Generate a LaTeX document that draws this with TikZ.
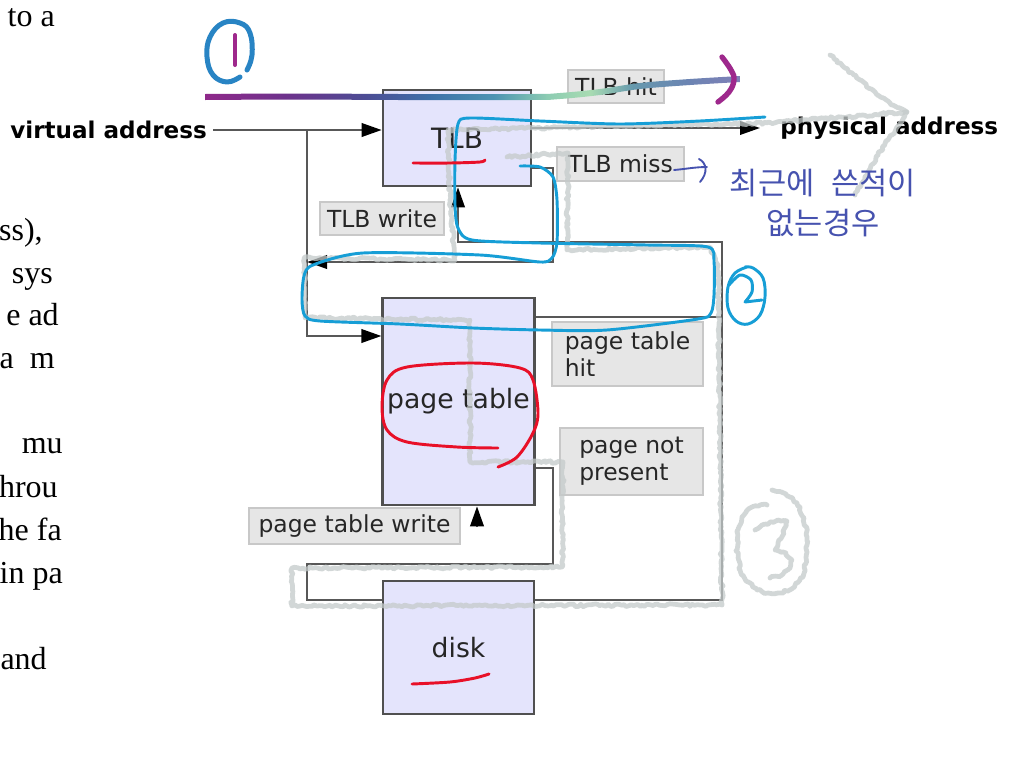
\documentclass[tikz,border=0pt]{standalone}
\usepackage{fontspec}
\setmainfont{Liberation Serif}
\newfontfamily\dvs{DejaVu Sans}
\newfontfamily\kor{Noto Sans CJK KR}
\usetikzlibrary{arrows.meta,decorations.pathmorphing,calc}

\definecolor{boxfill}{RGB}{228,228,252}
\definecolor{boxline}{RGB}{80,80,80}
\definecolor{lblfill}{RGB}{230,230,230}
\definecolor{lblline}{RGB}{200,200,200}
\definecolor{connc}{RGB}{88,88,88}
\definecolor{cyanpen}{RGB}{22,158,214}
\definecolor{redpen}{RGB}{232,16,40}
\definecolor{indigopen}{RGB}{70,82,175}
\definecolor{pencilc}{RGB}{196,202,202}
\definecolor{purplepen}{RGB}{158,40,140}
\definecolor{tealpen}{RGB}{40,132,196}

\pgfdeclarehorizontalshading{glitter}{100bp}{%
 rgb(0bp)=(0.56,0.16,0.54);
 rgb(25bp)=(0.56,0.16,0.54);
 rgb(33bp)=(0.42,0.20,0.55);
 rgb(40bp)=(0.30,0.30,0.58);
 rgb(46bp)=(0.24,0.44,0.66);
 rgb(52bp)=(0.30,0.58,0.70);
 rgb(57bp)=(0.55,0.80,0.70);
 rgb(61bp)=(0.66,0.86,0.70);
 rgb(65bp)=(0.40,0.60,0.68);
 rgb(70bp)=(0.42,0.52,0.70);
 rgb(75bp)=(0.50,0.50,0.72);
 rgb(100bp)=(0.50,0.50,0.72)}

\tikzset{
  bigtri/.tip={Triangle[length=15pt,width=10pt,color=black]},
  wire/.style={draw=connc, line width=1.9pt},
  boxnode/.style={draw=boxline, fill=boxfill, line width=1.9pt, text=black!85,
    font=\dvs\fontsize{20}{24}\selectfont},
  lbl/.style={draw=lblline, fill=lblfill, line width=1.5pt, text=black!85, inner sep=0pt,
    align=left, font=\dvs\fontsize{17.6}{20.25}\selectfont},
  bigtxt/.style={inner sep=0pt, text=black, font=\dvs\bfseries\fontsize{17.3}{20}\selectfont},
  lefttxt/.style={anchor=base east, inner sep=0pt, text=black, font=\fontsize{24}{28}\selectfont},
  pencil/.style={draw=pencilc, line width=3.6pt, line cap=round, line join=round, opacity=0.75,
    dash pattern=on 1.3pt off 0.5pt,
    decorate, decoration={random steps, segment length=2pt, amplitude=1pt}},
  cyanstroke/.style={draw=cyanpen, line width=2.2pt, line cap=round, line join=round},
  redstroke/.style={draw=redpen, line width=2.2pt, line cap=round, line join=round},
  handpen/.style={draw=indigopen, line width=1.4pt, line cap=round},
}

\begin{document}
\begin{tikzpicture}[x=0.75pt,y=-0.75pt]
\useasboundingbox (0,0) rectangle (1023,768);
\fill[white] (0,0) rectangle (1023,768);

% ---- background text fragments
\node[lefttxt] (t1) at (55,26) {to a};
\node[lefttxt] (t2) at (43,240) {ss),};
\node[lefttxt] (t3) at (53,283) {sys};
\node[lefttxt] (t4) at (59,325) {e ad};
\node[lefttxt] (t5) at (55,368) {a~~m};
\node[lefttxt] (t6) at (63,453) {mu};
\node[lefttxt] (t7) at (58,497) {hrou};
\node[lefttxt] (t8) at (62,540) {he fa};
\node[lefttxt] (t9) at (63,583) {in pa};
\node[lefttxt] (t10) at (47,669) {and};

% ---- boxes
\node[boxnode, minimum width=111pt, minimum height=72pt, font=\dvs\fontsize{21}{24}\selectfont] (TLB) at (457,138) {TLB};
\node[boxnode, minimum width=113.25pt, minimum height=155.25pt] (PT) at (458.5,401.5) {page table};
\node[boxnode, minimum width=113.25pt, minimum height=99.75pt] (disk) at (458.5,647.5) {disk};

% ---- labels
\node[lbl, minimum width=72pt, minimum height=24.75pt] (hit) at (616,86.5) {TLB hit};
\node[lbl, minimum width=95.25pt, minimum height=25.5pt] (miss) at (620.5,164) {TLB miss};
\node[lbl, minimum width=93pt, minimum height=24.75pt] (tw) at (382,218.5) {TLB write};
\node[lbl, minimum width=113.25pt, minimum height=48pt] (pth) at (627.5,354) {page table\\hit};
\node[lbl, minimum width=107.25pt, minimum height=50.25pt] (pnp) at (631.5,461.5) {page not\\present};
\node[lbl, minimum width=158.25pt, minimum height=27pt] (ptw) at (354.5,526) {page table write};

\node[bigtxt, anchor=east] (va) at (207,130) {virtual address};
\node[bigtxt, anchor=west] (pa) at (780,128) {physical address};

% ---- connectors
\coordinate (split) at (307,130);
\coordinate (missR) at (553,262);
\coordinate (wrR) at (722,242);
\coordinate (wrL) at (458,242);
\coordinate (npR) at (553,564);
\coordinate (npL) at (307,564);
\coordinate (ptwBase) at (477,527);

\draw[wire,-{bigtri}] (va.east) ++(6,0) -- (TLB.west |- split);
\draw[wire,-{bigtri}] (split) |- (PT.west |- 0,336);
\draw[wire,-{bigtri},shorten >=15pt] (TLB.east |- pa.west) -- (pa.west);
\draw[wire,-{bigtri}] (TLB.east |- 0,168) -| (missR) -- (split |- missR);
\draw[wire,-{bigtri}] (disk.east |- 0,600) -| (wrR) -- (wrL) -- (wrL |- TLB.south);
\draw[wire] (PT.east |- 0,317) -- (wrR |- 0,317);
\draw[wire] (PT.east |- 0,468) -| (npR) -- (npL) |- (disk.west |- 0,600);
\draw[wire,-{bigtri}] (ptwBase) -- (ptwBase |- PT.south);

% ---- pencil (grey) annotation path
\draw[pencil] (507,157) -- (568,153) -- (567,250) -- (710,247) -- (718,265) -- (722,605)
  -- (292,606) -- (292,568) -- (562,567) -- (563,462) -- (470,462) -- (470,320)
  -- (305,318) -- (304,258) -- (455,260) -- (450,200) -- (448,130) -- (767,123) -- (907,112);
\draw[pencil] (830,55) -- (845,68) -- (860,80) -- (875,92) -- (890,103) -- (907,112)
  -- (898,126) -- (888,140) -- (878,155) -- (868,172) -- (855,195);
\draw[pencil] (772,490) -- (786,494) -- (797,503) -- (804,518) -- (807,537) -- (806,558)
  -- (803,577) -- (793,588) -- (780,593) -- (768,593) -- (757,590) -- (746,581) -- (740,570)
  -- (737,550) -- (738,530) -- (742,517) -- (750,508) -- (760,505) -- (767,505);
\draw[pencil] (755,530) -- (765,524) -- (778,520) -- (787,521) -- (784,533) -- (775,550)
  -- (786,553) -- (792,560) -- (790,568) -- (782,575) -- (770,578);

% ---- glitter stroke
\draw[draw=tealpen, line width=3.75pt, line cap=round, line join=round]
  plot[smooth, tension=0.7] coordinates {(247,70) (252,55) (250,33) (240,23) (223,23) (210,37) (207,57) (213,75) (227,82) (240,77)};
\draw[draw=purplepen, line width=3pt, line cap=round] (235,35) -- (235,65);
\shade[shading=glitter] plot[smooth, tension=0.6] coordinates {(205,94) (300,93.5) (400,94) (530,94) (560,93) (600,89) (640,83) (690,79) (740,76)}
  -- plot[smooth, tension=0.6] coordinates {(740,82) (690,85) (640,89) (600,95) (560,99) (530,100) (400,100) (300,99.5) (205,100)} -- cycle;
\draw[draw=purplepen, line width=4pt, line cap=round, line join=round]
  plot[smooth, tension=0.7] coordinates {(722,57) (731,70) (734,80) (729,92) (718,102)};

% ---- cyan loop and numeral
\draw[cyanstroke] plot[smooth, tension=0.45] coordinates {(765,117) (700,121) (620,124) (540,121) (470,118) (458,124) (455,160) (455,205) (458,228) (472,240) (540,243) (647,245) (708,247) (714,262) (714,295) (711,313) (698,319) (607,330) (540,330) (473,328) (400,324) (320,321) (305,316) (302,300) (304,276) (313,265) (363,253) (480,255) (540,262) (552,258) (557,242) (557,200) (553,177) (540,167) (520,166)};
\draw[cyanstroke] plot[smooth, tension=0.6] coordinates {(747,267) (735,273) (728,287) (728,308) (736,321) (748,324) (760,315) (765,297) (763,278) (753,268) (745,267)};
\draw[cyanstroke] plot[smooth, tension=0.5] coordinates {(729,285) (740,275) (751,280) (752,292) (745,302)} -- (762,300);

% ---- red marks
\draw[redstroke] plot[smooth, tension=0.5] coordinates {(413,163) (450,163) (480,162) (485,160)};
\draw[redstroke] plot[smooth, tension=0.55] coordinates {(498,467) (517,457) (533,433) (538,413) (533,380) (520,368) (473,363) (407,367) (387,380) (382,407) (387,430) (407,442) (457,447) (498,448)};
\draw[redstroke] plot[smooth, tension=0.5] coordinates {(412,684) (450,682) (475,678) (489,674)};

% ---- handwritten note
\draw[handpen] (674,170) .. controls (686,169) and (695,167) .. (707,167);
\draw[handpen] (699,159) .. controls (707,163) and (708,173) .. (700,182);
\node[text=indigopen, align=center, inner sep=0pt, font=\kor\fontsize{23}{29.5}\selectfont] (kr) at (823,203) {최근에\hspace{0.55em}쓴적이\\없는경우};

\end{tikzpicture}
\end{document}
